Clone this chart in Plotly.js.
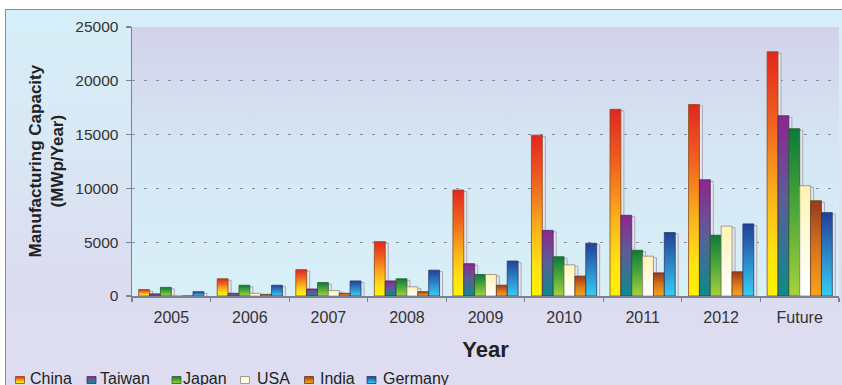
<!DOCTYPE html>
<html>
<head>
<meta charset="utf-8">
<script src="https://cdn.plot.ly/plotly-3.0.1.min.js"></script>
<style>
  html, body { margin: 0; padding: 0; background: #ffffff; }
  #frame {
    position: absolute; left: 5px; top: 9px; width: 837px; height: 376px;
    border-top: 1.5px solid #8c8c94; border-left: 1.5px solid #8c8c94;
    background: linear-gradient(to bottom, #d6eff8 0%, #d9e8f5 35%, #dcdcf0 70%, #dedcf0 100%);
  }
  #chart { position: absolute; left: 0; top: 0; width: 842px; height: 385px; }
</style>
</head>
<body>
<div id="frame"></div>
<div id="chart"></div>
<script>
// Photovoltaic manufacturing capacity (MWp/Year) by country
const years   = ['2005', '2006', '2007', '2008', '2009', '2010', '2011', '2012', 'Future'];
const china   = [600, 1600, 2450, 5050, 9850, 14950, 17350, 17800, 22700];
const taiwan  = [200, 250, 650, 1400, 3000, 6100, 7500, 10800, 16750];
const japan   = [800, 1000, 1250, 1600, 2000, 3650, 4250, 5650, 15550];
const usa     = [0, 250, 500, 850, 2000, 2900, 3700, 6500, 10250];
const india   = [0, 150, 250, 400, 1000, 1850, 2150, 2250, 8850];
const germany = [400, 1000, 1400, 2400, 3250, 4900, 5900, 6700, 7750];

const seriesNames  = ['China', 'Taiwan', 'Japan', 'USA', 'India', 'Germany'];
const seriesValues = [china, taiwan, japan, usa, india, germany];
const yTicks = [0, 5000, 10000, 15000, 20000, 25000];

// flat fallback colours plus vertical gradients (top -> bottom) for each series
const baseColors = ['#f39a1e', '#6a3f90', '#4aa83a', '#fffbe0', '#d8741e', '#2c86c8'];
const gradients = [
  [[0, '#e3261f'], [0.3, '#f0641f'], [0.6, '#fab51b'], [0.82, '#ffe214'], [1, '#fff200']],
  [[0, '#8e2590'], [0.45, '#5e5c98'], [1, '#0b8c8a']],
  [[0, '#0c7a3c'], [0.5, '#4fa83a'], [1, '#a6d23c']],
  [[0, '#fff4b0'], [0.6, '#fffbe6'], [1, '#ffffff']],
  [[0, '#963a1c'], [0.5, '#d8741e'], [1, '#f9a51a']],
  [[0, '#22409a'], [0.5, '#2c86c8'], [1, '#36cdf4']]
];
const outlineColors = ['#8a4a1a', '#4a2a5a', '#2c5a2a', '#8a8a80', '#6a3a1a', '#243c6a'];

const FONT = 'Liberation Sans, Arial, Helvetica, sans-serif';

const traces = seriesNames.map((name, i) => ({
  type: 'bar',
  name: name,
  x: years,
  y: seriesValues[i],
  marker: { color: baseColors[i], line: { color: outlineColors[i], width: 0.8 } },
  hoverinfo: 'x+y+name'
}));

const layout = {
  width: 842, height: 385,
  margin: { l: 132, r: 3, t: 27, b: 89, pad: 0, autoexpand: false },
  paper_bgcolor: 'rgba(0,0,0,0)',
  plot_bgcolor: '#d8e4f4',
  barmode: 'group', bargap: 0.17, bargroupgap: 0,
  font: { family: FONT, color: '#333333' },
  xaxis: {
    type: 'category',
    showline: true, linecolor: '#7b8390', linewidth: 1.5,
    ticks: 'outside', tickson: 'boundaries', ticklen: 4, tickwidth: 1.2, tickcolor: '#7b8390',
    tickfont: { family: FONT, size: 16, color: '#333333' },
    ticklabelstandoff: 6,
    showgrid: false, fixedrange: true,
    title: { text: 'Year', font: { family: FONT, size: 22, weight: 'bold', color: '#222222' }, standoff: 17 }
  },
  yaxis: {
    range: [0, 25000], tickvals: yTicks, tickformat: 'd',
    showline: true, linecolor: '#7b8390', linewidth: 1.5,
    ticks: 'outside', ticklen: 5, tickwidth: 1.2, tickcolor: '#7b8390',
    tickfont: { family: FONT, size: 15.5, color: '#333333' },
    ticklabelstandoff: 4,
    showgrid: true, gridcolor: '#8c8ca0', gridwidth: 1.3, griddash: '3px,9px',
    zeroline: false, fixedrange: true
  },
  legend: {
    orientation: 'h', x: -0.2, y: -0.305, xanchor: 'left', yanchor: 'middle',
    font: { family: FONT, size: 16, color: '#222222' },
    bgcolor: 'rgba(0,0,0,0)', traceorder: 'normal'
  },
  annotations: [{
    text: 'Manufacturing Capacity<br>(MWp/Year)',
    textangle: -90, xref: 'paper', yref: 'paper', x: 0, y: 0.5,
    xanchor: 'center', yanchor: 'middle', xshift: -86, showarrow: false,
    font: { family: FONT, size: 17, weight: 'bold', color: '#222222' }
  }],
  showlegend: true
};

// legend placement: text start and symbol centre (px) for each entry
const legendTextX = [30, 100, 183, 257, 320, 383];
const legendSymX  = [20, 91.5, 176.5, 245, 309, 371.5];
const legendTextCY = 378, legendSymCY = 380;

function parseTranslate(t) {
  const m = /translate\(\s*([-\d.e]+)[ ,]+([-\d.e]+)\s*\)/.exec(t || '');
  return m ? [parseFloat(m[1]), parseFloat(m[2])] : [0, 0];
}

Plotly.newPlot('chart', traces, layout, { displayModeBar: false, staticPlot: true }).then(gd => {
  const NS = 'http://www.w3.org/2000/svg';
  const svg = gd.querySelector('svg.main-svg');
  const defs = document.createElementNS(NS, 'defs');
  svg.insertBefore(defs, svg.firstChild);

  function addGradient(id, stops) {
    const g = document.createElementNS(NS, 'linearGradient');
    g.setAttribute('id', id);
    g.setAttribute('x1', '0'); g.setAttribute('y1', '0');
    g.setAttribute('x2', '0'); g.setAttribute('y2', '1');
    stops.forEach(([o, c]) => {
      const s = document.createElementNS(NS, 'stop');
      s.setAttribute('offset', o);
      s.setAttribute('stop-color', c);
      g.appendChild(s);
    });
    defs.appendChild(g);
  }

  // plot area: lavender at the top fading to pale cyan near the baseline
  addGradient('plotBg', [[0, '#d2d2ea'], [0.45, '#d5e6f4'], [1, '#d8f0f8']]);
  gradients.forEach((st, i) => addGradient('barFill' + i, st));

  const bg = gd.querySelector('.bglayer rect.bg');
  if (bg) bg.style.fill = 'url(#plotBg)';

  // drop the gridline that sits on the top edge of the plot
  const plotTop = gd._fullLayout._size.t;
  gd.querySelectorAll('.gridlayer .ygrid').forEach(p => {
    const r = p.getBoundingClientRect();
    if (Math.abs(r.top - plotTop) < 2) p.remove();
  });

  // bars: gradient fill plus a pale offset slab for the bevelled look
  gd.querySelectorAll('.barlayer .trace.bars').forEach((tr, i) => {
    tr.querySelectorAll('.point path').forEach(p => {
      const slab = p.cloneNode();
      slab.style.fill = '#e6e6ee';
      slab.style.stroke = '#9a9aa4';
      slab.style.strokeWidth = '0.8px';
      slab.setAttribute('transform', 'translate(3,1.5)');
      p.parentNode.insertBefore(slab, p);
      p.style.fill = 'url(#barFill' + i + ')';
    });
  });

  // legend: small gradient swatches and tighter spacing
  const scroll = gd.querySelector('.legend .scrollbox');
  if (scroll) scroll.removeAttribute('clip-path');
  gd.querySelectorAll('.legend .traces').forEach((item, i) => {
    const txt = item.querySelector('text.legendtext');
    const r = txt.getBoundingClientRect();
    const [tx, ty] = parseTranslate(item.getAttribute('transform'));
    const dx = legendTextX[i] - r.left;
    const dy = legendTextCY - (r.top + r.bottom) / 2;
    item.setAttribute('transform', 'translate(' + (tx + dx) + ',' + (ty + dy) + ')');

    const sym = item.querySelector('.legendpoints path');
    if (sym) {
      sym.setAttribute('d', 'M4.5,3.5H-4.5V-3.5H4.5Z');
      sym.style.fill = 'url(#barFill' + i + ')';
      sym.style.stroke = outlineColors[i];
      sym.style.strokeWidth = '0.8px';
      const sr = sym.getBoundingClientRect();
      const sdx = legendSymX[i] - (sr.left + sr.right) / 2;
      const sdy = legendSymCY - (sr.top + sr.bottom) / 2;
      const prev = sym.getAttribute('transform') || '';
      sym.setAttribute('transform', prev + ' translate(' + sdx + ',' + sdy + ')');
    }
  });
});
</script>
</body>
</html>
